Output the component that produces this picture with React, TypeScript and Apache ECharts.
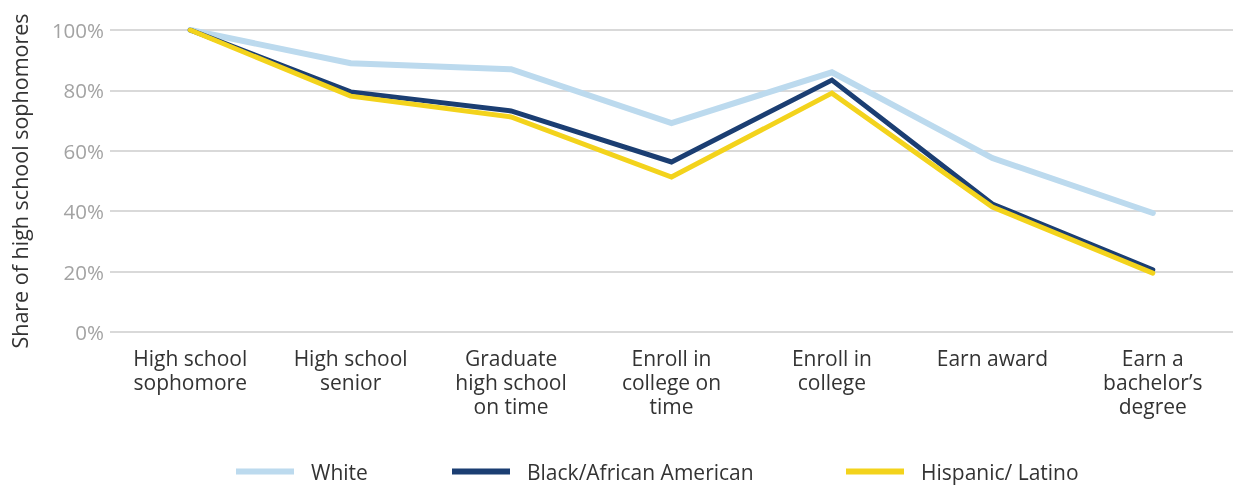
import React, { useEffect, useRef } from "react";
import * as echarts from "echarts";

const categories = [
  "High school\nsophomore",
  "High school\nsenior",
  "Graduate\nhigh school\non time",
  "Enroll in\ncollege on\ntime",
  "Enroll in\ncollege",
  "Earn award",
  "Earn a\nbachelor\u2019s\ndegree",
];
const white = [100, 89, 87, 69.2, 86, 57.6, 39.4];
const black = [100, 79.5, 73.2, 56.3, 83.4, 42.4, 20.6];
const hispanic = [100, 78.1, 71.2, 51.3, 79.1, 41.4, 19.5];
const yTicks = [0, 20, 40, 60, 80, 100];
const seriesNames = ["White", "Black/African American", "Hispanic/ Latino"];

const FONT = "Open Sans";

export default function App() {
  const ref = useRef<HTMLDivElement>(null);
  useEffect(() => {
    if (!ref.current) return;
    const chart = echarts.init(ref.current, undefined, { renderer: "svg" });
    const mk = (name: string, data: number[], color: string, width: number) => ({
      name,
      type: "line",
      data,
      symbol: "none",
      lineStyle: { color, width, cap: "round", join: "miter" },
      itemStyle: { color },
    });
    const legendLefts = [231, 447, 841];
    chart.setOption({
      animation: false,
      textStyle: { fontFamily: FONT },
      grid: { left: 104, right: -2, top: 30, bottom: 153, containLabel: false },
      legend: seriesNames.map((n, i) => ({
        left: legendLefts[i],
        top: 456,
        icon: "rect",
        itemWidth: 58,
        itemHeight: 6,
        textStyle: { fontSize: 21, color: "#333", fontFamily: FONT, padding: [0, 0, 0, 12] },
        data: [n],
      })),
      xAxis: {
        type: "category",
        data: categories,
        boundaryGap: true,
        axisLine: { show: false },
        axisTick: { show: false },
        axisLabel: {
          interval: 0,
          margin: 14,
          fontSize: 21,
          lineHeight: 24,
          color: "#333",
          fontFamily: FONT,
          align: "center",
        },
      },
      yAxis: {
        type: "value",
        min: yTicks[0],
        max: yTicks[yTicks.length - 1],
        interval: 20,
        name: "Share of high school sophomores",
        nameLocation: "middle",
        nameGap: 80,
        nameTextStyle: { fontSize: 21.5, color: "#333", fontFamily: FONT },
        axisLine: { show: false },
        axisTick: { show: false },
        axisLabel: {
          formatter: "{value}%",
          fontSize: 20.5,
          color: "#a3a3a3",
          margin: 6,
          fontFamily: FONT,
        },
        splitLine: { lineStyle: { color: "#d9d9d9", width: 2 } },
      },
      series: [
        mk(seriesNames[0], white, "#bcdaee", 6),
        mk(seriesNames[1], black, "#1b3e72", 5),
        mk(seriesNames[2], hispanic, "#f3d31c", 5),
      ],
    });
    return () => chart.dispose();
  }, []);
  return (
    <div
      ref={ref}
      style={{ position: "fixed", left: 0, top: 0, width: 1233, height: 485 }}
    />
  );
}
